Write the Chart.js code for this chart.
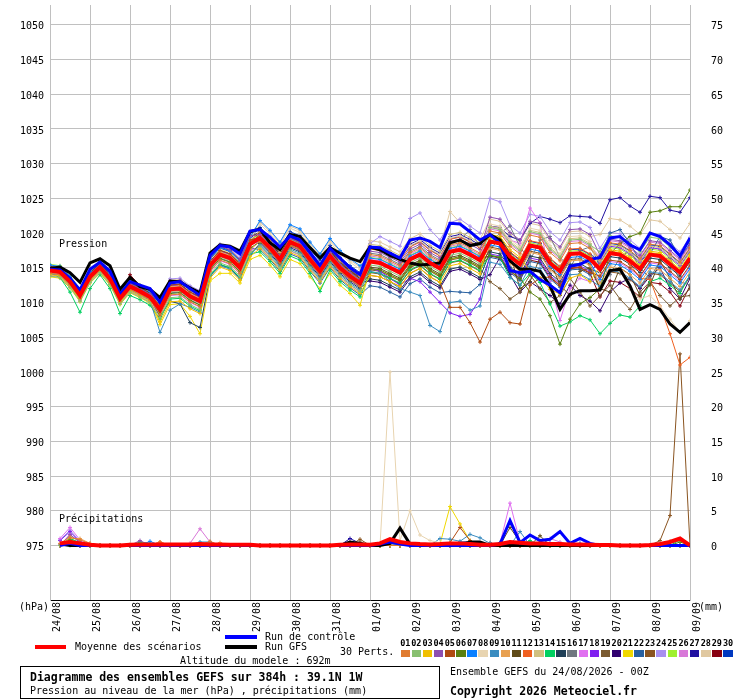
<!DOCTYPE html>
<html><head><meta charset="utf-8">
<script src="https://cdn.jsdelivr.net/npm/chart.js@4"></script>
<style>
html,body{margin:0;padding:0;background:#fff;}
#wrap{position:relative;width:740px;height:700px;overflow:hidden;font-family:'DejaVu Sans Mono',monospace;color:#000;background:#fff;}
#c{position:absolute;left:0;top:0;}
.t{position:absolute;font-size:10px;line-height:12px;white-space:pre;}
.b{font-weight:bold;font-size:11.5px;line-height:14px;}
.ln{position:absolute;height:4px;}
.sq{position:absolute;top:650px;width:9.5px;height:7px;}
.num{position:absolute;top:638px;width:11px;text-align:center;font-size:8.5px;line-height:10px;font-weight:bold;}
#box{position:absolute;left:20px;top:666px;width:420px;height:33px;border:1px solid #000;box-sizing:border-box;}
</style></head>
<body>
<div id="wrap">
<canvas id="c" width="740" height="700" style="width:740px;height:700px"></canvas>
<div class="t" style="left:59px;top:238px">Pression</div>
<div class="t" style="left:59px;top:513px">Précipitations</div>
<div class="t" style="left:19px;top:601px">(hPa)</div>
<div class="t" style="left:699px;top:601px">(mm)</div>
<div class="ln" style="left:35px;top:645px;width:31px;background:#ff0000"></div>
<div class="t" style="left:75px;top:641px">Moyenne des scénarios</div>
<div class="ln" style="left:225px;top:635px;width:32px;background:#0000ff"></div>
<div class="t" style="left:265px;top:631px">Run de contrôle</div>
<div class="ln" style="left:225px;top:645px;width:32px;background:#000"></div>
<div class="t" style="left:265px;top:641px">Run GFS</div>
<div class="t" style="left:180px;top:655px">Altitude du modele : 692m</div>
<div class="t" style="left:340px;top:646px">30 Perts.</div>
<div id="legendRow"></div>
<div id="box"></div>
<div class="t b" style="left:30px;top:670px">Diagramme des ensembles GEFS sur 384h : 39.1N 1W</div>
<div class="t" style="left:30px;top:685px">Pression au niveau de la mer (hPa) , précipitations (mm)</div>
<div class="t" style="left:450px;top:666px">Ensemble GEFS du 24/08/2026 - 00Z</div>
<div class="t b" style="left:450px;top:684px">Copyright 2026 Meteociel.fr</div>
</div>
<script>
// ---------- DATA ----------
const steps = [0,1,2,3,4,5,6,7,8,9,10,11,12,13,14,15,16,17,18,19,20,21,22,23,24,25,26,27,28,29,30,31,32,33,34,35,36,37,38,39,40,41,42,43,44,45,46,47,48,49,50,51,52,53,54,55,56,57,58,59,60,61,62,63,64];
const dayTicks = [0,4,8,12,16,20,24,28,32,36,40,44,48,52,56,60,64];
const dateLabels = ["24/08","25/08","26/08","27/08","28/08","29/08","30/08","31/08","01/09","02/09","03/09","04/09","05/09","06/09","07/09","08/09","09/09"];
const pressureTicks = [975,980,985,990,995,1000,1005,1010,1015,1020,1025,1030,1035,1040,1045,1050];
const precipTicks = [0,5,10,15,20,25,30,35,40,45,50,55,60,65,70,75];
const memberNames = ["01","02","03","04","05","06","07","08","09","10","11","12","13","14","15","16","17","18","19","20","21","22","23","24","25","26","27","28","29","30"];
const memberColors = ["#e07b30","#88c070","#f0c000","#8e4fb0","#b04a10","#5a8010","#0a80ff","#e8d4b0","#3a8cc0","#e8a050","#604b18","#f06020","#d0c080","#00d060","#204058","#707880","#e070f0","#8020f0","#7a5a30","#300070","#f0d800","#2860a0","#8a5420","#a890f0","#a0f030","#d878d8","#2010a0","#e0c8a0","#880010","#0038c0"];

const pressureMean = [1014.6,1014.4,1013.0,1011.0,1013.7,1015.1,1013.4,1010.6,1012.3,1011.6,1010.8,1009.0,1011.9,1012.0,1010.9,1010.2,1015.3,1016.9,1016.4,1015.0,1018.4,1019.3,1017.9,1016.2,1018.7,1018.1,1016.2,1014.5,1016.7,1015.0,1013.8,1012.8,1015.9,1015.7,1015.0,1014.3,1016.2,1016.9,1015.7,1014.9,1017.3,1017.6,1016.9,1016.1,1018.8,1018.5,1016.6,1015.5,1018.2,1017.9,1015.7,1014.5,1017.0,1017.1,1016.3,1014.8,1017.1,1016.9,1016.0,1014.8,1016.9,1016.7,1015.5,1014.3,1016.4];
const pressureControl = [1014.8,1014.7,1013.5,1011.8,1014.8,1015.8,1014.5,1011.2,1013.0,1012.5,1012.0,1010.0,1012.8,1013.0,1012.0,1011.0,1016.8,1018.2,1018.0,1017.0,1020.3,1020.5,1019.4,1018.0,1019.6,1019.0,1017.2,1015.3,1017.8,1016.4,1015.0,1014.0,1018.0,1017.9,1017.1,1016.4,1019.0,1019.3,1018.8,1017.9,1021.4,1021.3,1020.2,1019.0,1019.8,1018.5,1014.6,1014.3,1014.5,1013.3,1012.5,1011.4,1015.2,1015.5,1016.2,1016.5,1019.3,1019.5,1018.3,1017.6,1020.0,1019.5,1018.3,1016.7,1019.3];
const pressureGfs = [1014.9,1015.1,1014.3,1012.9,1015.7,1016.3,1015.3,1011.9,1013.6,1012.3,1011.9,1010.7,1013.1,1013.0,1012.1,1011.4,1017.1,1018.3,1018.1,1017.4,1020.2,1020.6,1018.6,1017.6,1019.8,1019.5,1017.9,1016.4,1017.9,1017.1,1016.4,1015.9,1018.0,1017.6,1016.8,1016.2,1015.7,1015.4,1015.5,1015.7,1018.6,1019.0,1018.2,1018.5,1019.8,1019.0,1016.0,1014.8,1014.8,1014.5,1012.4,1009.0,1011.2,1011.7,1011.7,1011.8,1014.6,1014.8,1012.4,1009.0,1009.7,1009.0,1006.9,1005.7,1007.1];

const pressurePert01 = [1014.2,1014.0,1012.6,1010.6,1013.3,1014.7,1013.0,1010.2,1011.9,1011.2,1010.4,1008.2,1011.1,1011.2,1010.1,1009.4,1014.5,1016.1,1015.6,1014.2,1017.6,1018.8,1017.4,1015.7,1018.2,1017.6,1015.7,1014.0,1016.2,1014.5,1013.3,1012.3,1016.9,1016.7,1016.0,1015.3,1017.2,1017.9,1016.7,1015.9,1018.3,1018.6,1017.9,1017.1,1020.3,1020.0,1018.1,1017.0,1019.7,1019.4,1017.2,1016.0,1018.5,1018.6,1017.8,1016.3,1018.6,1018.4,1017.5,1016.3,1018.4,1018.2,1017.0,1015.8,1017.9];
const pressurePert02 = [1013.8,1013.6,1012.2,1010.2,1012.9,1014.3,1012.6,1009.8,1011.5,1010.8,1010.0,1007.8,1010.7,1010.8,1009.7,1009.0,1014.1,1015.7,1015.2,1013.8,1017.2,1018.1,1016.7,1015.0,1017.5,1016.9,1015.0,1013.3,1015.5,1013.8,1012.6,1011.6,1015.4,1015.2,1014.5,1013.8,1015.7,1016.4,1015.2,1014.4,1016.8,1017.1,1016.4,1015.6,1020.8,1020.5,1018.6,1017.5,1020.2,1019.9,1017.7,1016.5,1019.0,1019.1,1018.3,1017.3,1019.6,1019.4,1018.5,1017.3,1019.4,1019.2,1018.0,1016.8,1018.9];
const pressurePert03 = [1014.0,1013.8,1012.4,1010.4,1013.1,1014.5,1012.8,1010.0,1011.7,1011.0,1010.2,1007.2,1010.1,1010.2,1009.1,1008.4,1013.5,1015.1,1014.6,1013.2,1016.6,1017.8,1016.4,1014.7,1017.2,1016.6,1014.7,1013.0,1015.2,1013.5,1012.3,1011.3,1013.9,1013.7,1013.0,1012.3,1014.2,1014.9,1013.7,1012.9,1015.3,1015.6,1014.9,1014.1,1019.8,1019.5,1017.6,1016.5,1014.5,1013.5,1011.9,1011.2,1013.5,1014.0,1013.0,1015.3,1017.6,1017.4,1016.5,1015.3,1017.4,1017.2,1016.0,1014.8,1016.9];
const pressurePert04 = [1015.0,1014.8,1013.4,1011.4,1014.1,1015.5,1013.8,1011.0,1012.7,1012.0,1011.2,1010.2,1013.1,1013.2,1012.1,1011.4,1016.5,1018.1,1017.6,1016.2,1019.6,1019.8,1018.4,1016.7,1019.2,1018.6,1016.7,1015.0,1017.2,1015.5,1014.3,1013.3,1017.4,1017.2,1016.5,1015.8,1017.7,1018.4,1017.2,1016.4,1018.8,1019.1,1018.4,1017.6,1022.3,1022.0,1020.1,1019.0,1021.7,1021.4,1019.2,1018.0,1020.5,1020.6,1019.8,1016.8,1019.1,1018.9,1018.0,1016.8,1018.9,1018.7,1017.5,1016.3,1018.4];
const pressurePert05 = [1014.9,1014.7,1013.3,1011.3,1014.0,1015.4,1013.7,1010.9,1012.6,1011.9,1011.1,1009.6,1012.5,1012.6,1011.5,1010.8,1015.9,1017.5,1017.0,1015.6,1019.0,1019.3,1017.9,1016.2,1018.7,1018.1,1016.2,1014.5,1016.7,1015.0,1013.8,1012.8,1013.9,1013.7,1013.0,1012.3,1014.2,1014.9,1013.7,1012.9,1009.3,1009.3,1007.1,1004.3,1007.6,1008.6,1007.1,1006.9,1012.5,1013.5,1013.7,1012.5,1015.0,1015.1,1014.3,1013.8,1016.1,1015.9,1015.0,1013.8,1015.9,1015.7,1014.5,1013.3,1015.4];
const pressurePert06 = [1014.6,1014.4,1013.0,1011.0,1013.7,1015.1,1013.4,1010.6,1012.3,1011.6,1010.8,1008.4,1011.3,1011.4,1010.3,1009.6,1014.7,1016.3,1015.8,1014.4,1017.8,1018.8,1017.4,1015.7,1018.2,1017.6,1015.7,1014.0,1016.2,1014.5,1013.3,1012.3,1014.9,1014.7,1014.0,1013.3,1015.2,1015.9,1014.7,1013.9,1016.3,1016.6,1015.9,1015.1,1016.8,1016.5,1014.6,1013.5,1011.5,1010.5,1008.1,1004.0,1007.6,1009.8,1010.7,1012.0,1017.0,1018.5,1019.5,1020.0,1023.0,1023.2,1023.8,1023.8,1026.2];
const pressurePert07 = [1015.4,1015.2,1013.8,1011.8,1014.5,1015.9,1014.2,1011.4,1013.1,1012.4,1011.6,1010.0,1012.9,1013.0,1011.9,1011.2,1016.3,1017.9,1017.4,1016.0,1019.4,1021.8,1020.4,1018.7,1021.2,1020.6,1018.7,1017.0,1019.2,1017.5,1016.3,1015.3,1016.4,1016.2,1015.5,1014.8,1016.7,1017.4,1016.2,1015.4,1017.8,1018.1,1017.4,1016.6,1018.3,1018.0,1016.1,1015.0,1017.7,1017.4,1015.2,1014.0,1016.5,1016.6,1015.8,1013.3,1015.6,1015.4,1014.5,1013.3,1015.4,1015.2,1014.0,1012.8,1014.9];
const pressurePert08 = [1014.8,1014.6,1013.2,1011.2,1013.9,1015.3,1013.6,1010.8,1012.5,1011.8,1011.0,1009.8,1012.7,1012.8,1011.7,1011.0,1016.1,1017.7,1017.2,1015.8,1019.2,1021.3,1019.9,1018.2,1020.7,1020.1,1018.2,1016.5,1018.7,1017.0,1015.8,1014.8,1017.9,1017.7,1017.0,1016.3,1018.2,1018.9,1017.7,1016.9,1019.3,1019.6,1018.9,1018.1,1021.3,1021.0,1019.1,1018.0,1020.7,1020.4,1018.2,1017.0,1019.5,1019.6,1018.8,1014.0,1015.5,1014.5,1012.0,1010.5,1011.0,1009.5,1007.6,1005.7,1007.4];
const pressurePert09 = [1014.1,1013.9,1012.5,1010.5,1013.2,1014.6,1012.9,1010.1,1011.8,1011.1,1010.3,1005.7,1008.9,1009.8,1009.3,1008.6,1013.7,1015.3,1014.8,1013.4,1016.8,1018.3,1016.9,1015.2,1017.7,1017.1,1015.2,1013.5,1015.7,1014.0,1012.8,1011.8,1014.5,1014.2,1013.0,1012.0,1011.5,1011.0,1006.7,1005.8,1010.0,1010.2,1008.9,1009.5,1015.8,1015.5,1013.6,1012.5,1015.2,1014.9,1012.7,1011.5,1014.0,1014.1,1013.3,1012.3,1014.6,1014.4,1013.5,1012.3,1014.4,1014.2,1013.0,1011.8,1013.9];
const pressurePert10 = [1014.7,1014.5,1013.1,1011.1,1013.8,1015.2,1013.5,1010.7,1012.4,1011.7,1010.9,1009.4,1012.3,1012.4,1011.3,1010.6,1015.7,1017.3,1016.8,1015.4,1018.8,1020.3,1018.9,1017.2,1019.7,1019.1,1017.2,1015.5,1017.7,1016.0,1014.8,1013.8,1015.9,1015.7,1015.0,1014.3,1016.2,1016.9,1015.7,1014.9,1017.3,1017.6,1016.9,1016.1,1017.8,1017.5,1015.6,1014.5,1017.2,1016.9,1014.7,1013.5,1016.0,1016.1,1015.3,1012.8,1015.1,1014.9,1014.0,1012.8,1014.9,1014.7,1013.5,1012.3,1014.4];
const pressurePert11 = [1015.2,1015.0,1013.6,1011.6,1014.3,1015.7,1014.0,1011.2,1012.9,1012.2,1011.4,1010.1,1013.0,1013.1,1012.0,1011.3,1016.4,1018.0,1017.5,1016.1,1019.5,1020.1,1018.7,1017.0,1019.5,1018.9,1017.0,1015.3,1017.5,1015.8,1014.6,1013.6,1015.1,1014.9,1014.2,1013.5,1015.4,1016.1,1014.9,1014.1,1016.5,1016.8,1016.1,1015.3,1017.5,1019.5,1017.0,1012.0,1013.0,1016.5,1016.0,1012.5,1011.0,1014.5,1015.0,1012.0,1011.5,1015.0,1014.0,1011.0,1012.5,1016.0,1013.5,1010.5,1012.0];
const pressurePert12 = [1014.5,1014.3,1012.9,1010.9,1013.6,1015.0,1013.3,1010.5,1012.2,1011.5,1010.7,1009.3,1012.2,1012.3,1011.2,1010.5,1015.6,1017.2,1016.7,1015.3,1018.7,1019.6,1018.2,1016.5,1019.0,1018.4,1016.5,1014.8,1017.0,1015.3,1014.1,1013.1,1017.7,1017.5,1016.8,1016.1,1018.0,1018.7,1017.5,1016.7,1019.1,1019.4,1018.7,1017.9,1019.5,1019.2,1017.3,1016.2,1018.9,1018.6,1016.4,1015.2,1017.7,1017.8,1017.0,1015.0,1017.5,1017.0,1015.5,1013.5,1013.3,1009.5,1005.5,1001.0,1002.1];
const pressurePert13 = [1014.3,1014.1,1012.7,1010.7,1013.4,1014.8,1013.1,1010.3,1012.0,1011.3,1010.5,1008.6,1011.5,1011.6,1010.5,1009.8,1014.9,1016.5,1016.0,1014.6,1018.0,1019.5,1018.1,1016.4,1018.9,1018.3,1016.4,1014.7,1016.9,1015.2,1014.0,1013.0,1018.4,1018.2,1017.5,1016.8,1018.7,1019.4,1018.2,1017.4,1019.8,1020.1,1019.4,1018.6,1021.0,1020.7,1018.8,1017.7,1020.4,1020.1,1017.9,1016.7,1019.2,1019.3,1018.5,1016.0,1018.3,1018.1,1017.2,1016.0,1018.1,1017.9,1016.7,1015.5,1017.6];
const pressurePert14 = [1014.3,1013.6,1011.5,1008.6,1012.0,1014.0,1012.0,1008.4,1011.0,1010.4,1009.6,1007.6,1010.5,1010.6,1009.5,1008.8,1013.9,1015.5,1015.0,1013.6,1017.0,1017.3,1015.9,1014.2,1016.7,1016.1,1014.2,1011.6,1014.7,1013.0,1011.8,1010.8,1014.4,1014.2,1013.5,1012.8,1014.7,1015.4,1014.2,1013.4,1015.8,1016.1,1015.4,1014.6,1016.8,1016.5,1013.6,1012.5,1014.2,1012.9,1009.8,1006.6,1007.2,1008.1,1007.5,1005.5,1007.0,1008.2,1007.9,1009.5,1013.0,1013.5,1012.5,1011.3,1014.0];
const pressurePert15 = [1014.4,1014.2,1012.8,1010.8,1013.5,1014.9,1013.2,1010.4,1012.1,1011.4,1010.6,1008.0,1010.2,1009.8,1007.1,1006.4,1013.8,1015.4,1015.0,1013.5,1016.9,1018.5,1017.1,1015.4,1017.9,1017.3,1015.4,1013.7,1015.9,1014.2,1013.0,1012.0,1013.4,1013.2,1012.5,1011.8,1013.7,1014.4,1013.2,1012.4,1014.8,1015.1,1014.4,1013.6,1017.3,1017.0,1015.1,1014.0,1016.7,1016.4,1014.2,1013.0,1015.5,1015.6,1014.8,1014.3,1016.6,1016.4,1015.5,1014.3,1016.4,1016.2,1015.0,1013.8,1015.9];
const pressurePert16 = [1014.6,1014.4,1013.0,1011.0,1013.7,1015.1,1013.4,1010.6,1012.3,1011.6,1010.8,1008.7,1011.6,1011.7,1010.6,1009.9,1015.0,1016.6,1016.1,1014.7,1018.1,1019.8,1018.4,1016.7,1019.2,1018.6,1016.7,1015.0,1017.2,1015.5,1014.3,1013.3,1017.1,1016.9,1016.2,1015.5,1017.4,1018.1,1016.9,1016.1,1016.0,1019.0,1020.5,1018.0,1018.5,1020.0,1021.0,1018.0,1016.0,1019.0,1019.5,1016.5,1015.0,1017.5,1018.0,1015.5,1014.0,1016.5,1017.5,1015.0,1013.5,1016.0,1016.5,1013.0,1012.5];
const pressurePert17 = [1013.9,1013.7,1012.3,1010.3,1013.0,1014.4,1012.7,1009.9,1011.6,1010.9,1010.1,1008.1,1011.0,1011.1,1010.0,1009.3,1014.4,1016.0,1015.5,1014.1,1017.5,1018.0,1016.6,1014.9,1017.4,1016.8,1014.9,1013.2,1015.4,1013.7,1012.5,1011.5,1016.2,1016.0,1015.3,1014.6,1016.5,1017.2,1016.0,1015.2,1017.6,1017.9,1017.2,1016.4,1021.0,1020.5,1019.0,1018.5,1023.6,1021.5,1013.0,1007.4,1012.0,1013.5,1013.0,1013.6,1015.9,1015.7,1014.8,1013.6,1015.7,1015.5,1014.3,1013.1,1015.2];
const pressurePert18 = [1014.8,1014.6,1013.2,1011.2,1013.9,1015.3,1013.6,1010.8,1012.5,1011.8,1011.0,1009.5,1012.4,1012.5,1011.4,1010.7,1015.8,1017.4,1016.9,1015.5,1018.9,1018.7,1017.3,1015.6,1018.1,1017.5,1015.6,1013.9,1016.1,1014.4,1013.2,1012.2,1015.0,1014.5,1013.5,1012.5,1013.5,1013.0,1011.5,1010.0,1008.5,1008.0,1008.3,1010.5,1017.0,1016.7,1014.8,1013.7,1016.4,1016.1,1013.9,1012.7,1015.2,1015.3,1014.5,1015.8,1018.1,1017.9,1017.0,1015.8,1017.9,1017.7,1016.5,1015.3,1017.4];
const pressurePert19 = [1015.1,1014.9,1013.5,1011.5,1014.2,1015.6,1013.9,1011.1,1012.8,1012.1,1011.3,1009.2,1012.1,1012.2,1011.1,1010.4,1015.5,1017.1,1016.6,1015.2,1018.6,1019.0,1017.6,1015.9,1018.4,1017.8,1015.9,1014.2,1016.4,1014.7,1013.5,1012.5,1014.7,1014.5,1013.8,1013.1,1015.0,1015.7,1014.5,1013.7,1016.1,1016.4,1015.7,1014.9,1013.0,1012.0,1010.5,1011.5,1014.0,1012.0,1010.0,1011.0,1013.5,1011.5,1009.5,1011.0,1012.5,1010.5,1009.0,1011.5,1013.0,1011.0,1009.5,1010.8,1011.0];
const pressurePert20 = [1014.4,1014.2,1012.8,1010.8,1013.5,1014.9,1013.2,1010.4,1012.1,1011.4,1010.6,1009.6,1012.5,1012.6,1011.5,1010.8,1015.9,1017.5,1017.0,1015.6,1019.0,1019.4,1018.0,1016.3,1018.8,1018.2,1016.3,1014.6,1016.8,1015.1,1013.9,1012.9,1013.1,1012.9,1012.2,1011.5,1013.4,1014.1,1012.9,1012.1,1014.5,1014.8,1014.1,1013.3,1014.0,1016.5,1014.0,1011.5,1013.0,1012.0,1011.0,1009.8,1012.5,1011.0,1010.2,1008.8,1011.5,1012.8,1013.5,1012.0,1013.8,1015.0,1012.0,1010.5,1013.5];
const pressurePert21 = [1013.7,1013.5,1012.1,1010.1,1012.8,1014.2,1012.5,1009.7,1011.4,1010.7,1009.9,1006.8,1009.7,1009.8,1008.0,1005.5,1013.1,1014.2,1014.2,1012.8,1016.2,1016.8,1015.4,1013.7,1016.2,1015.6,1013.7,1012.0,1014.2,1012.5,1011.3,1009.6,1014.8,1014.6,1013.9,1013.2,1015.1,1015.8,1014.6,1013.8,1016.2,1016.5,1015.8,1015.0,1018.8,1018.5,1016.6,1015.5,1018.2,1017.9,1015.7,1014.5,1017.0,1017.1,1016.3,1015.1,1017.4,1017.2,1016.3,1015.1,1017.2,1017.0,1015.8,1014.6,1016.7];
const pressurePert22 = [1014.3,1014.1,1012.7,1010.7,1013.4,1014.8,1013.1,1010.3,1012.0,1011.3,1010.5,1008.5,1011.4,1011.5,1010.4,1009.7,1014.8,1016.4,1015.9,1014.5,1017.9,1017.6,1016.2,1014.5,1017.0,1016.4,1014.5,1012.8,1015.0,1013.3,1012.1,1011.1,1012.4,1012.2,1011.5,1010.8,1012.7,1013.4,1012.2,1011.4,1011.6,1011.5,1011.4,1012.6,1016.5,1016.2,1014.3,1013.2,1015.9,1015.6,1013.4,1012.2,1014.7,1014.8,1014.0,1016.5,1020.0,1020.5,1018.5,1016.0,1017.0,1019.5,1019.0,1016.5,1018.5];
const pressurePert23 = [1015.0,1014.8,1013.4,1011.4,1014.1,1015.5,1013.8,1011.0,1012.7,1012.0,1011.2,1009.0,1011.9,1012.0,1010.9,1010.2,1015.3,1016.9,1016.4,1015.0,1018.4,1019.9,1018.5,1016.8,1019.3,1018.7,1016.8,1015.1,1017.3,1015.6,1014.4,1013.4,1014.3,1014.1,1013.4,1012.7,1014.6,1015.3,1014.1,1013.3,1015.7,1016.0,1015.3,1014.5,1018.0,1017.7,1015.8,1014.7,1017.4,1017.1,1014.9,1013.7,1016.2,1016.3,1015.5,1012.1,1014.4,1014.2,1013.3,1012.1,1014.2,1014.0,1012.8,1011.6,1013.7];
const pressurePert24 = [1015.2,1015.0,1013.6,1011.6,1014.3,1015.7,1014.0,1011.2,1012.9,1012.2,1011.4,1010.5,1013.4,1013.5,1012.4,1011.7,1016.8,1018.4,1017.9,1016.5,1019.9,1020.5,1019.1,1017.4,1019.9,1019.3,1017.4,1015.7,1017.9,1016.2,1015.0,1014.0,1018.5,1019.5,1018.8,1018.1,1022.1,1022.9,1020.5,1019.0,1021.5,1022.0,1021.0,1020.0,1025.0,1024.5,1021.1,1020.0,1022.7,1022.4,1020.2,1019.0,1021.5,1021.6,1020.8,1017.8,1020.1,1019.9,1019.0,1017.8,1019.9,1019.7,1018.5,1017.3,1019.4];
const pressurePert25 = [1015.5,1015.3,1013.9,1011.9,1014.6,1016.0,1014.3,1011.5,1013.2,1012.5,1011.7,1009.7,1012.6,1012.7,1011.6,1010.9,1016.0,1017.6,1017.1,1015.7,1019.1,1019.7,1018.3,1016.6,1019.1,1018.5,1016.6,1014.9,1017.1,1015.4,1014.2,1013.2,1016.5,1016.3,1015.6,1014.9,1016.8,1017.5,1016.3,1015.5,1017.9,1018.2,1017.5,1016.7,1019.2,1018.9,1017.0,1015.9,1018.6,1018.3,1016.1,1014.9,1017.4,1017.5,1016.7,1015.6,1017.9,1017.7,1016.8,1015.6,1017.7,1017.5,1016.3,1015.1,1017.2];
const pressurePert26 = [1014.2,1014.0,1012.6,1010.6,1013.3,1014.7,1013.0,1010.2,1011.9,1011.2,1010.4,1008.8,1011.7,1011.8,1010.7,1010.0,1015.1,1016.7,1016.2,1014.8,1018.2,1018.9,1017.5,1015.8,1018.3,1017.7,1015.8,1014.1,1016.3,1014.6,1013.4,1012.4,1016.7,1016.5,1015.8,1015.1,1017.0,1017.7,1016.5,1015.7,1018.1,1018.4,1017.7,1016.9,1020.6,1020.3,1018.4,1017.3,1020.0,1019.7,1017.5,1016.3,1018.8,1018.9,1018.1,1016.6,1018.9,1018.7,1017.8,1016.6,1018.7,1018.5,1017.3,1016.1,1018.2];
const pressurePert27 = [1014.9,1014.7,1013.3,1011.3,1014.0,1015.4,1013.7,1010.9,1012.6,1011.9,1011.1,1009.9,1012.8,1012.9,1011.8,1011.1,1016.2,1017.8,1017.3,1015.9,1019.3,1020.2,1018.8,1017.1,1019.6,1019.0,1017.1,1015.4,1017.6,1015.9,1014.7,1013.7,1018.1,1017.9,1017.2,1016.5,1018.4,1019.1,1017.9,1017.1,1019.5,1019.8,1019.1,1018.3,1021.0,1020.8,1019.5,1019.0,1021.4,1022.4,1022.0,1021.5,1022.5,1022.4,1022.3,1021.4,1024.8,1025.1,1023.9,1023.0,1025.3,1025.1,1023.3,1023.0,1025.1];
const pressurePert28 = [1015.3,1015.1,1013.7,1011.7,1014.4,1015.8,1014.1,1011.3,1013.0,1012.3,1011.5,1010.3,1013.2,1013.3,1012.2,1011.5,1016.6,1018.2,1017.7,1016.3,1019.7,1021.6,1020.2,1018.5,1021.0,1020.4,1018.5,1016.8,1019.0,1017.3,1016.1,1015.1,1018.9,1018.7,1018.0,1017.3,1019.2,1019.9,1018.7,1017.9,1023.1,1021.5,1019.9,1019.1,1022.0,1021.7,1019.8,1018.7,1021.4,1021.1,1018.9,1017.7,1020.2,1020.3,1019.5,1019.8,1022.1,1021.9,1021.0,1019.8,1021.9,1021.7,1020.5,1019.3,1021.4];
const pressurePert29 = [1015.2,1015.0,1013.6,1011.6,1014.3,1015.7,1014.0,1011.2,1014.0,1012.4,1011.6,1009.6,1012.5,1012.6,1011.5,1010.8,1015.9,1017.5,1017.0,1015.6,1019.0,1020.0,1018.6,1016.9,1019.4,1018.8,1016.9,1015.2,1017.4,1015.7,1014.5,1013.5,1016.1,1015.9,1015.2,1014.5,1016.4,1017.1,1015.9,1015.1,1017.5,1017.8,1017.1,1016.3,1016.7,1016.4,1014.5,1013.4,1016.1,1015.8,1013.6,1012.4,1014.9,1015.0,1014.2,1010.8,1013.1,1012.9,1012.0,1010.8,1012.9,1012.7,1011.5,1009.5,1012.4];
const pressurePert30 = [1015.1,1014.9,1013.5,1011.5,1014.2,1015.6,1013.9,1011.1,1012.8,1012.1,1011.3,1010.0,1012.9,1013.0,1011.9,1011.2,1016.3,1017.9,1017.4,1016.0,1019.4,1020.8,1019.4,1017.7,1020.2,1019.6,1017.7,1016.0,1018.2,1016.5,1015.3,1014.3,1017.8,1017.6,1016.9,1016.2,1018.1,1018.8,1017.6,1016.8,1019.2,1019.5,1018.8,1018.0,1019.4,1019.1,1017.2,1016.1,1018.8,1018.5,1016.3,1015.1,1017.6,1017.7,1016.9,1016.2,1018.5,1018.3,1017.4,1016.2,1018.3,1018.1,1016.9,1015.7,1017.8];

// precipitation (mm), steps 1..64
const rainMean = [0.3,0.5,0.3,0.1,0,0,0,0.1, 0.15,0.15,0.15,0.15,0.15,0.15,0.2,0.15, 0.15,0.1,0.1,0.1,0,0,0,0, 0,0,0,0,0.1,0.15,0.15,0.1, 0.3,0.9,0.5,0.3,0.2,0.15,0.2,0.3, 0.3,0.2,0.1,0.1,0.2,0.5,0.4,0.3, 0.3,0.2,0.2,0.15,0.15,0.1,0.05,0.05, 0,0,0,0.05,0.2,0.5,1.0,0];
const rainControl = [0,0.3,0,0,0,0,0,0, 0,0,0,0,0,0,0,0, 0,0,0,0,0,0,0,0, 0,0,0,0,0,0,0,0, 0.2,0.5,0.2,0,0,0,0,0, 0,0,0,0,0.2,3.6,0.4,1.5, 0.7,0.9,2.0,0.3,1.0,0.3,0,0, 0,0,0,0,0,0,0,0];
const rainGfs = [0.2,0,0,0,0,0,0,0, 0,0,0,0,0,0,0,0, 0,0,0,0,0,0,0,0, 0,0,0,0,0,0.5,0.3,0, 0,0.3,2.5,0.2,0,0,0,0, 0,0.5,0.5,0,0,0,0,0, 0,0,0,0,0,0,0,0, 0,0,0,0,0,0,0,0];
const rainPert01 = [0.3,1.2,0.8,0.3,0,0,0,0, 0,0,0.5,0,0,0,0,0.6, 0,0,0,0,0,0,0,0, 0,0,0,0,0,0,0,0, 0,0,0,0,0,0,0,0, 0,0,0,0,0,0,0,0, 0,0,0,0,0,0,0,0, 0,0,0,0,0,0.6,0.8,0];
const rainPert02 = [0,0.5,0.2,0,0,0,0,0, 0,0,0,0,0,0,0,0, 0,0,0,0,0,0,0,0, 0,0,0,0,0,0,0,0, 0,0,0,0,0,0,0,0, 0,0,0,0,0,0,0.3,0, 0,0,0,0,0,0,0,0, 0,0,0,0,0,0,0,0];
const rainPert03 = [0,0.4,0.2,0,0,0,0,0, 0,0,0,0,0,0,0,0, 0,0,0,0,0,0,0,0, 0,0,0,0,0,0,0,0, 0,0,0,0,0,0,0,0.3, 0,0,0,0,0,0,0,0, 0,0,0,0,0,0,0,0, 0,0,0,0,0,0,0,0];
const rainPert04 = [0,1.6,0.4,0,0,0,0,0, 0.7,0,0,0,0,0,0,0, 0,0,0,0,0,0,0,0, 0,0,0,0,0,0,0,0, 0,0,0,0,0,0,0,0, 0,0,0,0,0,0,0,0, 0,0,0,0,0,0,0,0, 0,0,0,0,0,0,0,0];
const rainPert05 = [0,0.3,0,0,0,0,0,0, 0,0,0,0,0,0,0,0, 0,0,0,0,0,0,0,0, 0,0,0,0,0,0,0,0, 0,0,0,0,0,0,0,0.4, 2.6,0.7,0,0,0,0,0,0, 0,0,0,0,0,0,0,0, 0,0,0,0,0,0,0,0];
const rainPert06 = [0,0.8,0.3,0,0,0,0,0, 0,0,0,0,0,0,0,0, 0,0,0,0,0,0,0,0, 0,0,0,0,0,0,0,0, 0,0,0,0,0,0,0,0, 0,0,0,0,0,0,0,0, 0,0,0,0,0,0,0,0, 0,0,0,0,0,0,0.5,0];
const rainPert07 = [0,0.4,0,0,0,0,0,0, 0,0.6,0,0,0,0,0,0, 0,0,0,0,0,0,0,0, 0,0,0,0,0,0,0,0, 0,0.4,0,0,0,0,0,0, 0,0,0,0,0,0,0,0, 0,0,0,0,0,0,0,0, 0,0,0,0,0,0,0,0];
const rainPert08 = [0,0.3,0,0,0,0,0,0.2, 0,0,0,0,0,0,0,0, 0,0,0,0,0,0,0,0, 0,0,0,0,0,0,0,0, 0,25.0,0.7,5.0,1.5,0.7,0.4,0, 0,0,0,0,0,0,0,0, 0,0,0,0,0,0,0,0, 0,0,0,0,0,0,0,0];
const rainPert09 = [0,0,0,0,0,0,0,0, 0,0,0,0,0,0,0.5,0.5, 0,0,0,0,0,0,0,0, 0,0,0,0,0,0,0,0, 0,0,0,0,0,0,1.0,0.9, 0.6,1.6,1.1,0.3,0,0,2.0,0, 0,0,0,0,0,0,0,0, 0,0,0,0,0,0,0,0];
const rainPert10 = [0,1.0,1.0,0.3,0,0,0,0, 0,0,0.3,0,0,0,0,0, 0.4,0,0,0,0,0,0,0, 0,0,0,0,0,0,0,0, 0,0,0,0,0,0,0,0, 0,0,0,0,0,0,0,0, 0,0,0,0,0,0,0,0, 0,0,0,0,0,0,0,0];
const rainPert11 = [0,0.2,0,0,0,0,0,0, 0,0,0,0,0,0,0,0, 0,0,0,0,0,0,0,0, 0,0,0,0,0,0,0,0, 0,0,0,0,0,0,0,0, 0,0,0,0,0,2.6,0.5,0, 1.4,0,0,0,0,0,0,0, 0,0,0,0,0,0,0,0];
const rainPert12 = [0,0.4,0,0,0,0,0,0, 0,0,0.5,0,0,0,0,0, 0,0,0,0,0,0,0,0, 0,0,0,0,0,0.4,0,0, 0,0.7,0,0,0,0,0,0, 0,0,0,0,0,0,0,0, 0,0,0,0,0,0,0,0, 0,0,0,0,0,0,0,0];
const rainPert13 = [0,0.3,0,0,0,0,0,0, 0,0,0,0,0,0,0,0, 0,0,0,0,0,0,0,0, 0,0,0,0,0,0,0,0, 0,0,0,0,0,0,0,0, 0,0.5,0,0,0,0,0,0, 0,0,0,0,0,0,0,0, 0,0,0,0,0,0,0,0];
const rainPert14 = [0,1.0,0.4,0,0,0,0,0, 0.5,0.3,0,0,0,0,0,0, 0,0,0,0,0,0,0,0, 0,0,0,0,0,0,0,0, 0,0,0,0,0,0,0,0, 0,0,0,0,0,0,0,0.7, 0,0,0,0,0,0,0,0, 0,0,0,0,0,0,0.8,0];
const rainPert15 = [0,0.2,0,0,0,0,0,0, 0,0,0,0,0,0,0,0, 0,0,0,0,0,0,0,0, 0,0,0,0,0,0,0,0, 0,0,0,0,0,0,0,0, 0,0,0,0,0.4,0,0,0, 0,0,0,0,0,0,0,0, 0,0,0,0,0,0,0,0];
const rainPert16 = [0,0.3,0,0,0,0,0,0, 0,0,0,0,0,0,0,0, 0,0,0,0,0,0,0,0, 0,0,0,0,0,0,0,0, 0,0,0,0,0,0,0,0, 0,0,0,0.4,0,0,0,0, 0,0,0,0,0,0,0,0, 0,0,0,0,0,0,0,0];
const rainPert17 = [1.0,2.6,0.8,0.2,0,0,0,0, 0,0,0,0,0,0,0,0, 0,0,0,0,0,0,0,0, 0,0,0,0,0,0,0,0, 0,0,0,0,0,0,0,0, 0,0,0,0,0.3,6.1,0.5,0, 0,0,0,0,0,0,0,0, 0,0,0,0,0,0,0,0];
const rainPert18 = [0.7,2.0,0.5,0,0,0,0,0, 0,0,0,0,0,0,0,0, 0,0,0,0,0,0,0,0, 0,0,0,0,0,0,0,0, 0,0,0,0,0,0,0,0, 0,0,0,0,0,0,0,0, 0,0.4,0,0,0,0,0,0, 0,0,0,0,0,0,0,0];
const rainPert19 = [0,0.3,0,0,0,0,0,0, 0,0,0,0,0,0,0,0, 0,0,0,0,0,0,0,0, 0,0,0,0,0,0,0.5,0, 0,0,0,0,0,0,0,0, 0,0,0,0,0,0,0,0, 0,0,0,0,0,0,0,0, 0,0,0,0,0,0,0,0];
const rainPert20 = [0,0.2,0,0,0,0,0,0, 0,0,0,0,0,0,0,0, 0,0,0,0,0,0,0,0, 0,0,0,0,0,0.3,0,0, 0,0,0,0,0,0,0,0, 0,0,0,0,0,0,0,0.4, 0,0,0,0,0,0,0,0, 0,0,0,0,0,0,0,0];
const rainPert21 = [0,0.7,0.3,0,0,0,0,0, 0,0,0,0,0,0,0,0, 0,0,0,0,0,0,0,0, 0,0,0,0,0,0,0,0, 0,0,0,0,0,0,0.2,5.6, 3.1,0.7,0.2,0,0,0,0,0, 0,0,0,0,0,0,0,0, 0,0,0,0,0,0,0,0];
const rainPert22 = [0,0.3,0,0,0,0,0,0, 0,0,0,0,0,0,0,0, 0,0,0,0,0,0,0,0, 0,0,0,0,0,0,0,0, 0,0,0,0,0,0,0,0, 0.5,0.6,0,0,0,0,0,0, 0,0,0,0,0,0,0,0, 0,0,0,0,0,0,0,0];
const rainPert23 = [0,0.4,0,0,0,0,0,0, 0,0,0,0,0,0,0,0, 0,0,0,0,0,0,0,0, 0,0,0,0,0,0,0.9,0, 0,0,0,0,0,0,0,0, 0,0,0,0,0,0,0,0, 0,0,0,0,0,0,0,0, 0,0,0,0,0.7,4.3,27.6,0];
const rainPert24 = [0.8,2.2,0.6,0,0,0,0,0, 0,0,0,0,0,0,0,0, 0,0,0,0,0,0,0,0, 0,0,0,0,0,0,0,0, 0,0,0,0,0,0,0,0, 0,0,0,0,0,0.5,0,0, 0,0,0,0,0,0,0,0, 0,0,0,0,0,0,0,0];
const rainPert25 = [0,1.1,0.2,0,0,0,0,0, 0.4,0,0,0,0,0,0,0, 0,0,0,0,0,0,0,0, 0,0,0,0,0,0,0,0, 0,0,0,0,0,0,0,0, 0,0,0,0,0,0,0,0, 0,0,0,0,0,0,0,0, 0,0,0,0,0,0,0,0];
const rainPert26 = [0,1.5,0.5,0,0,0,0,0, 0,0,0,0,0,0.3,2.4,0.5, 0,0,0,0,0,0,0,0, 0,0,0,0,0,0,0,0, 0,0,0,0,0,0,0,0, 0,0,0,0,0,0,0,0, 0,1.0,0.5,0,0,0,0,0, 0,0,0,0,0,0,0,0];
const rainPert27 = [0,0.3,0,0,0,0,0,0, 0,0,0,0,0,0,0,0, 0,0,0,0,0,0,0,0, 0,0,0,0,0,1.0,0.3,0, 0,0,0,0,0,0,0,0, 0,0,0,0,0,0,0,0, 0,0,0,0,0,0,0,0, 0,0,0,0,0,0,0,0];
const rainPert28 = [0,0.2,0,0,0,0,0,0, 0,0,0,0,0,0,0,0, 0,0,0,0,0,0,0,0, 0,0,0,0,0,0,0,0, 0,0,0.3,0,0,0,0,0, 0,0,0,0,0,0,0,0, 0,0,0,0,0,0,0,0, 0,0,0,0,0,0,0,0];
const rainPert29 = [0,0.4,0,0,0,0,0,0, 0,0,0,0,0,0,0,0, 0,0,0,0,0,0,0,0, 0,0,0,0,0,0,0,0, 0,0.6,0.3,0,0,0,0,0, 0,0,0,0,0,0,0,0, 0,0,0,0,0,0,0,0, 0,0,0,0,0,0,0,0];
const rainPert30 = [0,0.3,0,0,0,0,0,0, 0,0,0,0,0,0,0,0, 0,0,0,0,0,0,0,0, 0,0,0,0,0,0,0,0, 0,0,0,0,0,0,0,0, 0,0,0,0,0,0.4,0,0, 0,0,0,0,0.3,0,0,0, 0,0,0,0,0,0,0,0];

// ---------- BUILD ----------
const pressurePerts = [pressurePert01,pressurePert02,pressurePert03,pressurePert04,pressurePert05,pressurePert06,pressurePert07,pressurePert08,pressurePert09,pressurePert10,pressurePert11,pressurePert12,pressurePert13,pressurePert14,pressurePert15,pressurePert16,pressurePert17,pressurePert18,pressurePert19,pressurePert20,pressurePert21,pressurePert22,pressurePert23,pressurePert24,pressurePert25,pressurePert26,pressurePert27,pressurePert28,pressurePert29,pressurePert30];
const rainPerts = [rainPert01,rainPert02,rainPert03,rainPert04,rainPert05,rainPert06,rainPert07,rainPert08,rainPert09,rainPert10,rainPert11,rainPert12,rainPert13,rainPert14,rainPert15,rainPert16,rainPert17,rainPert18,rainPert19,rainPert20,rainPert21,rainPert22,rainPert23,rainPert24,rainPert25,rainPert26,rainPert27,rainPert28,rainPert29,rainPert30];

function xy(values, first){ return values.map((v,i)=>({x: steps[i+first], y: v})); }

const datasets = [];
function thin(label, vals, first, color, axis){
  return {label, data: xy(vals, first), yAxisID: axis, borderColor: color, backgroundColor: color,
    borderWidth: 1, pointStyle: 'cross', pointRadius: 2, pointBorderWidth: 1, pointBorderColor: color, order: 3, fill:false};
}
function thick(label, vals, first, color, axis, w, ord){
  return {label, data: xy(vals, first), yAxisID: axis, borderColor: color, backgroundColor: color,
    borderWidth: w, pointRadius: 0, order: ord, fill:false};
}
datasets.push(thick('Moyenne', pressureMean, 0, '#ff0000', 'y', 4, 0));
datasets.push(thick('Moyenne precip', rainMean, 1, '#ff0000', 'y2', 4, 0));
datasets.push(thick('Run de contrôle', pressureControl, 0, '#0000ff', 'y', 3, 1));
datasets.push(thick('Contrôle precip', rainControl, 1, '#0000ff', 'y2', 3, 1));
datasets.push(thick('Run GFS', pressureGfs, 0, '#000000', 'y', 3, 2));
datasets.push(thick('GFS precip', rainGfs, 1, '#000000', 'y2', 3, 2));
for (let k = 0; k < 30; k++) {
  datasets.push(thin('P'+memberNames[k], pressurePerts[k], 0, memberColors[k], 'y'));
  datasets.push(thin('R'+memberNames[k], rainPerts[k], 1, memberColors[k], 'y2'));
}

const font = {family: "'DejaVu Sans Mono', monospace", size: 10};
// pressure: 1050 hPa at y=20 px, 7 px per hPa, plot from y=0 to y=600
const pMax = 1050 + 20/7, pMin = 1050 - 580/7;
// precip: 0 mm at y=545 px, 7 px per mm
const rMax = 545/7, rMin = -55/7;

new Chart(document.getElementById('c'), {
  type: 'line',
  data: {datasets},
  options: {
    responsive: false, animation: false, devicePixelRatio: 1,
    layout: {padding: 0},
    plugins: {legend: {display: false}, tooltip: {enabled: false}, title: {display: false}},
    elements: {line: {tension: 0}},
    scales: {
      x: {
        type: 'linear', position: 'bottom', min: 0, max: 64,
        afterBuildTicks(s){ s.ticks = dayTicks.map(v => ({value: v})); },
        afterFit(s){ s.height = 100; s.paddingLeft = 0; s.paddingRight = 0; },
        ticks: {autoSkip: false, minRotation: 90, maxRotation: 90, padding: 2, labelOffset: 7, color: '#000', font,
          callback: (v, i) => dateLabels[i]},
        grid: {color: '#c0c0c0', lineWidth: 1, drawTicks: false},
        border: {color: '#000', width: 1}
      },
      y: {
        type: 'linear', position: 'left', min: pMin, max: pMax,
        afterBuildTicks(s){ s.ticks = pressureTicks.map(v => ({value: v})); },
        afterFit(s){ s.width = 50; s.paddingTop = 0; s.paddingBottom = 0; },
        ticks: {padding: 6, labelOffset: 2, color: '#000', font, callback: v => String(v)},
        grid: {color: '#c0c0c0', lineWidth: 1, drawTicks: false},
        border: {color: '#c0c0c0', width: 1}
      },
      y2: {
        type: 'linear', position: 'right', min: rMin, max: rMax,
        afterBuildTicks(s){ s.ticks = precipTicks.map(v => ({value: v})); },
        afterFit(s){ s.width = 50; s.paddingTop = 0; s.paddingBottom = 0; },
        ticks: {padding: 21, labelOffset: 2, color: '#000', font, callback: v => String(v)},
        grid: {display: false, drawTicks: false},
        border: {color: '#c0c0c0', width: 1}
      }
    }
  }
});

// legend swatches (colours of the 30 perturbations)
const row = document.getElementById('legendRow');
memberNames.forEach((n, k) => {
  const left = 400.5 + k * 11.13;
  const num = document.createElement('div');
  num.className = 'num'; num.style.left = (left - 0.75) + 'px'; num.textContent = n;
  row.appendChild(num);
  const sq = document.createElement('div');
  sq.className = 'sq'; sq.style.left = left + 'px'; sq.style.background = memberColors[k];
  row.appendChild(sq);
});
</script>
</body></html>
